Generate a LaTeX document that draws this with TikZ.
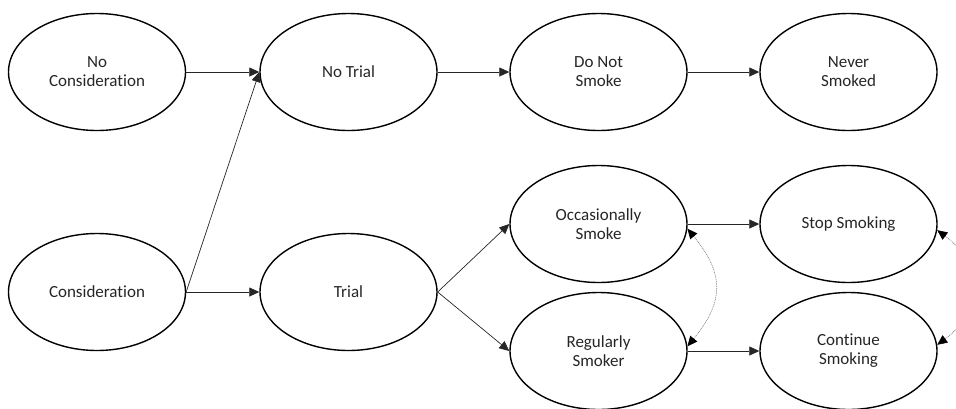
\documentclass[tikz,border=0pt]{standalone}
\usepackage{fontspec}
\setmainfont{Carlito}[Ligatures=CommonOff]
\usetikzlibrary{shapes.geometric,arrows.meta}
\begin{document}
\begin{tikzpicture}[x=1pt,y=-1pt,
  state/.style={ellipse, draw=black, line width=1.4pt, minimum width=177pt,
    minimum height=117pt, inner sep=0pt, align=center,
    font=\fontsize{17}{19}\selectfont, text=black!85},
  flow/.style={-{Triangle[length=10pt,width=9pt]}, line width=0.7pt, draw=black!85},
  link/.style={{Triangle[length=10pt,width=9pt,color=black]}-{Triangle[length=10pt,width=9pt,color=black]},
    line width=0.6pt, draw=black!50, dash pattern=on 1pt off 0.8pt}]
\useasboundingbox (0,0) rectangle (956,408);
\clip (0,0) rectangle (956,408);

% states
\node[state] (nc) at (97,72)    {No\\Consideration};
\node[state] (nt) at (348.5,72) {No Trial};
\node[state] (dn) at (598.5,72) {Do Not\\Smoke};
\node[state] (ns) at (848.5,72) {Never\\Smoked};
\node[state] (co) at (97,292)    {Consideration};
\node[state] (tr) at (348.5,292) {Trial};
\node[state] (os) at (598.5,224) {Occasionally\\Smoke};
\node[state] (rs) at (598.5,351) {Regularly\\Smoker};
\node[state] (ss) at (848.5,224) {Stop Smoking};
\node[state] (cs) at (848.5,351) {Continue\\Smoking};

% transitions
\draw[flow] (nc.east) -- (nt.west);
\draw[flow] (co.east) -- (nt.west);
\draw[flow] (nt.east) -- (dn.west);
\draw[flow] (dn.east) -- (ns.west);
\draw[flow] (co.east) -- (tr.west);
\draw[flow] (tr.east) -- (os.west);
\draw[flow] (tr.east) -- (rs.west);
\draw[flow] (os.east) -- (ss.west);
\draw[flow] (rs.east) -- (cs.west);

% two-way links between smoking states
\draw[link] (rs.3) .. controls +(37,-45) and +(37,45) .. (os.-3);
\draw[link] (ss.-4) .. controls +(45,33) and +(45,-33) .. (cs.4);
\end{tikzpicture}
\end{document}
